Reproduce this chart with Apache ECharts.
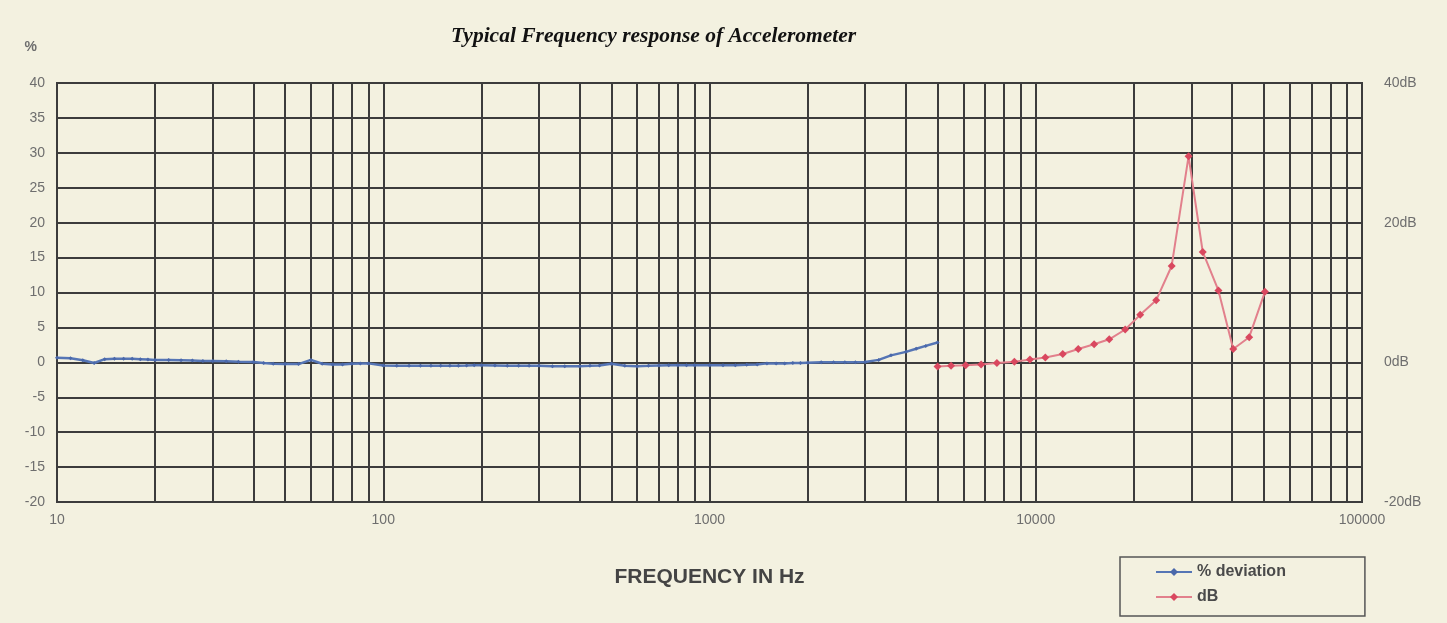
<!DOCTYPE html>
<html>
<head>
<meta charset="utf-8">
<script src="https://cdn.jsdelivr.net/npm/echarts@6/dist/echarts.min.js"></script>
<style>
html,body{margin:0;padding:0;background:#f3f1e0;}
#c{width:1447px;height:623px;}
</style>
</head>
<body>
<div id="c"></div>
<script>
// Frequencies (Hz) and % deviation for the blue series
const freqBlue = [10,11,12,13,14,15,16,17,18,19,20,22,24,26,28,30,33,36,40,43,46,50,55,60,65,70,75,80,85,90,
  100,110,120,130,140,150,160,170,180,190,200,220,240,260,280,300,330,360,400,430,460,500,550,600,650,700,750,800,850,900,
  1000,1100,1200,1300,1400,1500,1600,1700,1800,1900,2000,2200,2400,2600,2800,3000,3300,3600,4000,4300,4600,5000];
const pctDeviation = [0.67,0.57,0.3,-0.1,0.45,0.5,0.5,0.5,0.45,0.4,0.35,0.33,0.3,0.25,0.2,0.19,0.15,0.1,0.05,-0.1,-0.2,-0.25,-0.25,0.35,-0.2,-0.3,-0.3,-0.2,-0.15,-0.15,
  -0.45,-0.5,-0.5,-0.5,-0.5,-0.5,-0.5,-0.5,-0.45,-0.4,-0.4,-0.45,-0.5,-0.5,-0.5,-0.5,-0.55,-0.55,-0.55,-0.5,-0.45,-0.2,-0.5,-0.55,-0.5,-0.45,-0.4,-0.4,-0.4,-0.4,
  -0.4,-0.4,-0.4,-0.35,-0.3,-0.15,-0.15,-0.15,-0.1,-0.1,-0.05,0,0,0,0,0.05,0.35,1.0,1.5,1.95,2.35,2.85];
// Frequencies (Hz) and dB values for the red series
const freqRed = [5000,5500,6100,6800,7600,8600,9600,10700,12100,13500,15100,16800,18800,20900,23400,26100,29400,32500,36300,40300,45100,50400];
const dBValues = [-0.6,-0.5,-0.4,-0.3,-0.1,0.1,0.4,0.7,1.2,1.9,2.6,3.3,4.7,6.8,8.9,13.8,29.5,15.8,10.3,1.9,3.6,10.1];
// Intermediate log grid lines
const minorGridFreqs = [20,30,40,50,60,70,80,90,200,300,400,500,600,700,800,900,2000,3000,4000,5000,6000,7000,8000,9000,20000,30000,40000,50000,60000,70000,80000,90000];

const blueData = freqBlue.map((f,i)=>[f,pctDeviation[i]]);
const redData = freqRed.map((f,i)=>[f,dBValues[i]]);
const gridColor = '#3c3c3c';
const labelColor = '#6e6e6e';
const sans = 'Liberation Sans, Arial, sans-serif';

const chart = echarts.init(document.getElementById('c'), null, {renderer:'canvas'});
chart.setOption({
  backgroundColor: '#f3f1e0',
  animation: false,
  title: {
    text: 'Typical Frequency response of Accelerometer',
    left: 446, top: 20,
    textStyle: {fontFamily: 'Liberation Serif, Times New Roman, serif', fontStyle: 'italic', fontWeight: 'bold', fontSize: 21.5, color: '#111'}
  },
  grid: {left: 57, right: 85, top: 83, bottom: 121, show: true, borderColor: gridColor, borderWidth: 2, backgroundColor: 'transparent'},
  legend: {
    orient: 'vertical', left: 1120, top: 557,
    padding: [7, 79, 11, 35],
    itemWidth: 36, itemHeight: 10, itemGap: 9,
    borderColor: '#555', borderWidth: 1.5,
    textStyle: {fontFamily: sans, fontWeight: 'bold', fontSize: 16, color: '#4a4a4a'},
    data: ['% deviation', 'dB']
  },
  xAxis: {
    type: 'log', logBase: 10, min: 10, max: 100000,
    name: 'FREQUENCY IN Hz', nameLocation: 'middle', nameGap: 65,
    nameTextStyle: {fontFamily: sans, fontWeight: 'bold', fontSize: 21, color: '#444'},
    axisLine: {show: false}, axisTick: {show: false},
    axisLabel: {margin: 11, fontFamily: sans, fontSize: 14, color: labelColor, formatter: v => String(v)},
    splitLine: {show: true, lineStyle: {color: gridColor, width: 2}}
  },
  yAxis: [{
    type: 'value', min: -20, max: 40, interval: 5,
    name: '%', nameLocation: 'end', nameGap: 29,
    nameTextStyle: {fontFamily: sans, fontWeight: 'bold', fontSize: 14, color: labelColor, align: 'right', padding: [0, 20, 0, 0]},
    axisLine: {show: false}, axisTick: {show: false},
    axisLabel: {margin: 12, fontFamily: sans, fontSize: 14, color: labelColor},
    splitLine: {show: true, lineStyle: {color: gridColor, width: 2}}
  }, {
    type: 'value', min: -20, max: 40, interval: 20, position: 'right',
    axisLine: {show: false}, axisTick: {show: false},
    axisLabel: {margin: 22, fontFamily: sans, fontSize: 14, color: labelColor, formatter: '{value}dB'},
    splitLine: {show: false}
  }],
  series: [{
    name: '% deviation', type: 'line', yAxisIndex: 0, data: blueData, z: 4,
    symbol: 'diamond', symbolSize: 4, showSymbol: true,
    lineStyle: {color: '#5575b5', width: 2.5},
    itemStyle: {color: '#4a68aa'},
    markLine: {
      silent: true, symbol: 'none', z: 1, animation: false,
      label: {show: false},
      lineStyle: {color: gridColor, width: 2, type: 'solid'},
      emphasis: {disabled: true},
      data: minorGridFreqs.map(f => ({xAxis: f}))
    }
  }, {
    name: 'dB', type: 'line', yAxisIndex: 1, data: redData, z: 5,
    symbol: 'diamond', symbolSize: 8,
    lineStyle: {color: '#e2808c', width: 2},
    itemStyle: {color: '#d9485f'}
  }]
});
</script>
</body>
</html>
